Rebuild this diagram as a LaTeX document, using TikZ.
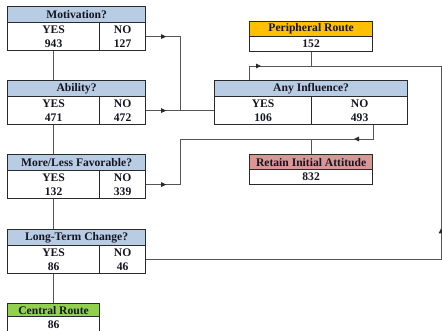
\documentclass[tikz,border=0pt]{standalone}
\usepackage{fontspec}
\setmainfont{Liberation Serif}
\usetikzlibrary{arrows.meta,decorations.markings}
\definecolor{boxline}{HTML}{2A2A2A}
\definecolor{lnc}{HTML}{555555}
\definecolor{txt}{HTML}{151522}
\definecolor{hblue}{HTML}{B8CCE4}
\definecolor{horange}{HTML}{FFC000}
\definecolor{hred}{HTML}{DA9694}
\definecolor{hgreen}{HTML}{92D050}
\begin{document}
\begin{tikzpicture}[x=1pt,y=-1pt,
  hdr/.style={draw=boxline, line width=1.2pt, fill=#1, anchor=north west, inner sep=0pt,
    minimum height=16pt, font=\bfseries\fontsize{11.6}{12}\selectfont, text=txt},
  cell/.style={draw=boxline, line width=1.2pt, fill=white, anchor=north west, inner sep=0pt,
    minimum height=28pt, align=center, font=\bfseries\fontsize{11.6}{14.5}\selectfont, text=txt},
  conn/.style={draw=lnc, line width=0.9pt},
  marr/.style={postaction=decorate, decoration={markings,
    mark=at position #1 with {\arrow[boxline]{Triangle[length=5pt,width=4.5pt]}}}}
]
\useasboundingbox (0,0) rectangle (442,330);

% Motivation
\node[cell, minimum width=92pt] (motY) at (7,22) {YES\\943};
\node[cell, minimum width=46pt] (motN) at (99,22) {NO\\127};
\node[hdr=hblue, minimum width=138pt] (motH) at (7,6) {Motivation?};

% Ability
\node[cell, minimum width=92pt] (abiY) at (7,96) {YES\\471};
\node[cell, minimum width=46pt] (abiN) at (99,96) {NO\\472};
\node[hdr=hblue, minimum width=138pt] (abiH) at (7,80) {Ability?};

% More/Less Favorable
\node[cell, minimum width=92pt] (morY) at (7,170) {YES\\132};
\node[cell, minimum width=46pt] (morN) at (99,170) {NO\\339};
\node[hdr=hblue, minimum width=138pt] (morH) at (7,154) {More/Less Favorable?};

% Long-Term Change
\node[cell, minimum width=92pt] (ltcY) at (7,245) {YES\\86};
\node[cell, minimum width=46pt] (ltcN) at (99,245) {NO\\46};
\node[hdr=hblue, minimum width=138pt] (ltcH) at (7,229) {Long-Term Change?};

% Central Route
\node[cell, minimum width=92pt, minimum height=16pt] (cenC) at (7,316) {86};
\node[hdr=hgreen, minimum width=92pt, minimum height=13pt] (cenH) at (7,303) {Central Route};

% Peripheral Route
\node[cell, minimum width=123pt, minimum height=15pt] (perC) at (249,36) {152};
\node[hdr=horange, minimum width=123pt, minimum height=15pt] (perH) at (249,21) {Peripheral Route};

% Any Influence
\node[cell, minimum width=97pt] (anyY) at (214,96) {YES\\106};
\node[cell, minimum width=96pt] (anyN) at (311,96) {NO\\493};
\node[hdr=hblue, minimum width=193pt] (anyH) at (214,80) {Any Influence?};

% Retain Initial Attitude
\node[cell, minimum width=123pt, minimum height=15pt] (retC) at (249,169) {832};
\node[hdr=hred, minimum width=123pt, minimum height=15pt] (retH) at (249,154) {Retain Initial Attitude};

% vertical YES chain
\draw[conn] (motY.south) -- (motY.south |- abiH.north);
\draw[conn] (abiY.south) -- (abiY.south |- morH.north);
\draw[conn] (morY.south) -- (morY.south |- ltcH.north);
\draw[conn] (ltcY.south) -- (ltcY.south |- cenH.north);

% NO branches to Any Influence
\coordinate (jx) at (180,0);
\draw[conn, marr=20pt] (motN.east) -- (motN.east -| jx) -- (jx |- abiN.east);
\draw[conn, marr=20pt] (abiN.east) -- (anyY.west);

% More/Less NO to Retain
\coordinate (ry) at (0,139);
\draw[conn, marr=20pt] (morN.east) -- (morN.east -| jx) -- (jx |- ry) -- (retH.north |- ry) -- (retH.north);

% Any Influence NO to Retain
\draw[conn, marr=33pt] (anyN.south -| retH.north east) -- (retH.north east |- ry) -- (retH.north |- ry);

% Any Influence YES to Peripheral
\coordinate (py) at (0,66);
\draw[conn, marr=26pt] (anyH.north -| perC.south west) -- (perC.south west |- py) -- (perC.south |- py) -- (perC.south);

% Long-Term NO around to Peripheral
\coordinate (rx) at (441,0);
\draw[conn, marr=326pt] (ltcN.east) -- (ltcN.east -| rx) -- (rx |- py) -- (perC.south |- py);
\end{tikzpicture}
\end{document}
